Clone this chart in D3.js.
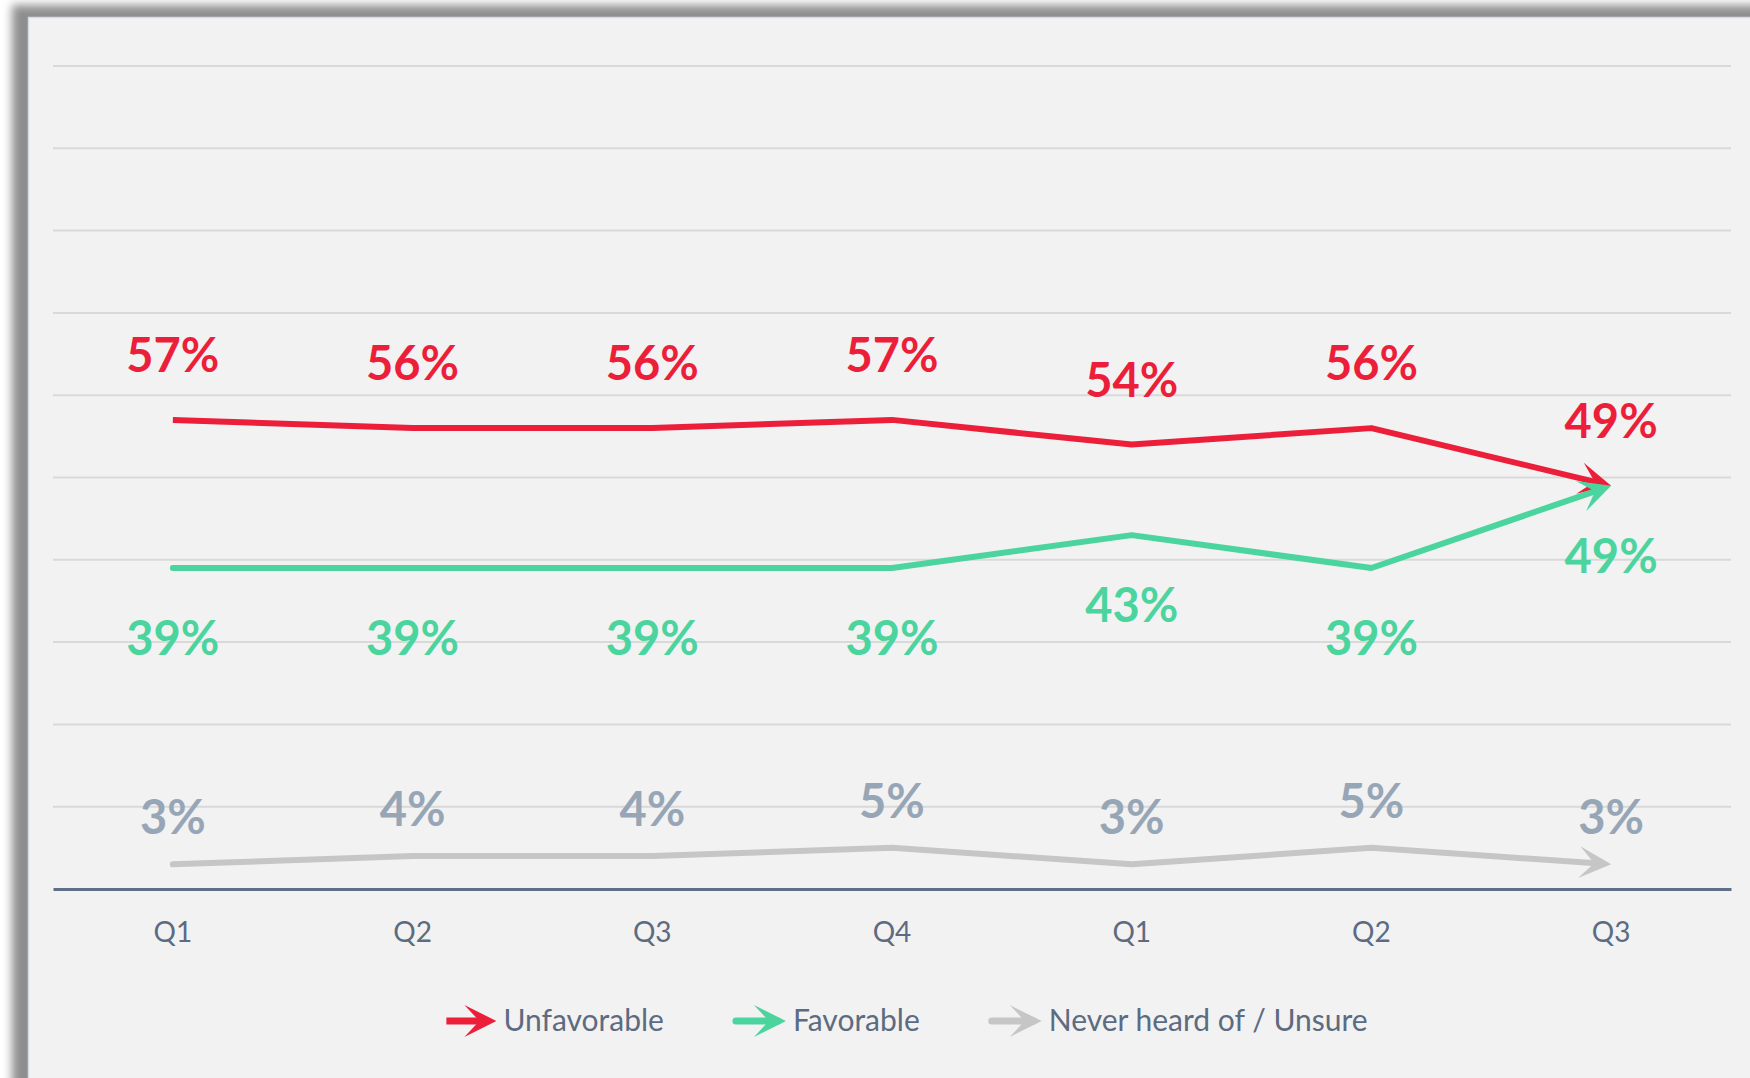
<!DOCTYPE html>
<html>
<head>
<meta charset="utf-8">
<script src="https://cdn.jsdelivr.net/npm/d3@7"></script>
<style>
  body { margin: 0; background: #ffffff; }
  text { font-family: Lato, "Open Sans", sans-serif; }
</style>
</head>
<body>
<script>
const width = 1750;
const height = 1078;

// data
const categories = ["Q1", "Q2", "Q3", "Q4", "Q1", "Q2", "Q3"];
const unfavorable = [57, 56, 56, 57, 54, 56, 49];
const favorable = [39, 39, 39, 39, 43, 39, 49];
const unsure = [3, 4, 4, 5, 3, 5, 3];
const gridTicks = [10, 20, 30, 40, 50, 60, 70, 80, 90, 100];
const seriesNames = ["Unfavorable", "Favorable", "Never heard of / Unsure"];

const series = [
  {name: seriesNames[0], values: unfavorable, color: "#ec1f3b", labelColor: "#ec1f3b", labelDy: -48, cap: "butt"},
  {name: seriesNames[1], values: favorable, color: "#4cd49f", labelColor: "#4cd49f", labelDy: 87, cap: "round"},
  {name: seriesNames[2], values: unsure, color: "#c6c6c6", labelColor: "#97a6b6", labelDy: -30, cap: "round"}
];

const plot = {left: 53, right: 1731, top: 66, bottom: 889};

var svg = d3.select("body")
    .append("svg")
    .attr("width", width)
    .attr("height", height);

var defs = svg.append("defs");

defs.append("filter")
    .attr("id", "shadow")
    .attr("x", "-10%").attr("y", "-10%")
    .attr("width", "120%").attr("height", "120%")
  .append("feGaussianBlur")
    .attr("stdDeviation", 5);

// arrow heads, one per colour
series.forEach(function(s, i){
  defs.append("marker")
      .attr("id", "arrow" + i)
      .attr("markerUnits", "userSpaceOnUse")
      .attr("viewBox", "-26 -17 36 34")
      .attr("markerWidth", 36)
      .attr("markerHeight", 34)
      .attr("refX", 0)
      .attr("refY", 0)
      .attr("orient", "auto")
      .style("overflow", "visible")
    .append("path")
      .attr("d", "M8,0 L-24,-16 L-9,0 L-24,16 Z")
      .attr("fill", s.color);
});

// frame with its shadow
svg.append("rect")
    .attr("x", 12).attr("y", 5)
    .attr("width", width + 40).attr("height", height + 40)
    .attr("fill", "#8e8e8e")
    .attr("filter", "url(#shadow)");

svg.append("rect")
    .attr("x", 28.5).attr("y", 17.5)
    .attr("width", width).attr("height", height)
    .attr("fill", "#f2f2f2")
    .attr("stroke", "#d3dce6")
    .attr("stroke-width", 1.5);

var x = d3.scaleBand()
    .domain(d3.range(categories.length))
    .range([plot.left, plot.right]);

var y = d3.scaleLinear()
    .domain([0, 100])
    .range([plot.bottom, plot.top]);

function cx(i){ return x(i) + x.bandwidth() / 2; }

// gridlines
svg.append("g")
  .selectAll("line")
  .data(gridTicks)
  .enter()
  .append("line")
    .attr("x1", plot.left)
    .attr("x2", plot.right)
    .attr("y1", (d) => y(d))
    .attr("y2", (d) => y(d))
    .attr("stroke", "#d9d9d9")
    .attr("stroke-width", 2);

// x axis
var xAxis = svg.append("g")
    .attr("transform", "translate(0," + plot.bottom + ")")
    .call(d3.axisBottom(x)
      .tickSize(0)
      .tickSizeOuter(0)
      .tickPadding(33)
      .tickFormat((i) => categories[i]));

xAxis.select(".domain")
    .attr("stroke", "#5f6f87")
    .attr("stroke-width", 3);

xAxis.selectAll("text")
    .attr("font-size", 28)
    .attr("fill", "#5c6b80")
    .style("font-family", "Lato, sans-serif");

// lines, the last point pulled back so the arrow tip lands on the value
var line = d3.line();

series.forEach(function(s, k){
  var pts = s.values.map((v, i) => [cx(i), y(v)]);
  var n = pts.length;
  var dx = pts[n-1][0] - pts[n-2][0];
  var dy = pts[n-1][1] - pts[n-2][1];
  var len = Math.sqrt(dx*dx + dy*dy);
  pts[n-1] = [pts[n-1][0] - dx/len*8, pts[n-1][1] - dy/len*8];

  svg.append("path")
      .attr("d", line(pts))
      .attr("fill", "none")
      .attr("stroke", s.color)
      .attr("stroke-width", 6)
      .attr("stroke-linecap", s.cap)
      .attr("stroke-linejoin", "round")
      .attr("marker-end", "url(#arrow" + k + ")");
});

// value labels
series.forEach(function(s){
  svg.append("g")
    .selectAll("text")
    .data(s.values)
    .enter()
    .append("text")
      .attr("x", (d, i) => cx(i))
      .attr("y", (d) => y(d) + s.labelDy)
      .attr("text-anchor", "middle")
      .attr("font-size", 47)
      .attr("font-weight", "bold")
      .attr("fill", s.labelColor)
      .text((d) => d + "%");
});

// legend
var legend = svg.append("g").attr("transform", "translate(0,1021)");
var items = legend.selectAll("g")
    .data(series)
    .enter()
    .append("g");

items.append("line")
    .attr("x1", 0)
    .attr("x2", 42)
    .attr("stroke", (d) => d.color)
    .attr("stroke-width", 7)
    .attr("stroke-linecap", (d) => d.cap)
    .attr("marker-end", (d, i) => "url(#arrow" + i + ")");

items.append("text")
    .attr("x", 57)
    .attr("y", 10)
    .attr("font-size", 30)
    .attr("fill", "#5c6b80")
    .text((d) => d.name);

var widths = [];
items.each(function(){ widths.push(57 + d3.select(this).select("text").node().getComputedTextLength()); });
var gap = 72;
var total = d3.sum(widths) + gap * (widths.length - 1);
var pos = 907 - total / 2;
items.attr("transform", function(d, i){
  var t = "translate(" + pos + ",0)";
  pos += widths[i] + gap;
  return t;
});
</script>
</body>
</html>
